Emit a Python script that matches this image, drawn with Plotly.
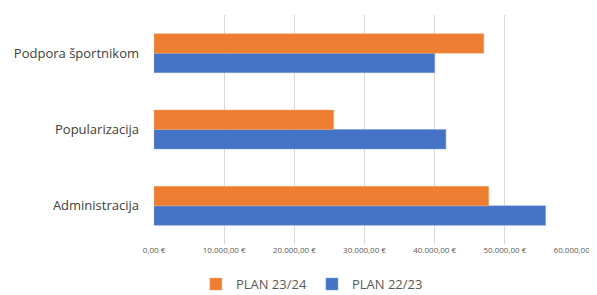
import plotly.graph_objects as go

categories = ["Administracija", "Popularizacija", "Podpora športnikom"]
plan_22_23 = [55800, 41600, 40000]
plan_23_24 = [47700, 25600, 47000]
tick_vals = [0, 10000, 20000, 30000, 40000, 50000, 60000]
tick_text = ["0,00 €", "10.000,00 €", "20.000,00 €", "30.000,00 €",
             "40.000,00 €", "50.000,00 €", "60.000,00 €"]

fig = go.Figure()
fig.add_trace(go.Bar(
    y=categories, x=plan_22_23, name="PLAN 22/23", orientation="h",
    marker=dict(color="#4472C4", line=dict(color="#7f9bd6", width=0.5)),
))
fig.add_trace(go.Bar(
    y=categories, x=plan_23_24, name="PLAN 23/24", orientation="h",
    marker=dict(color="#ED7D31", line=dict(color="#f3a46f", width=0.5)),
))

# page body has an 8px margin, so the figure is sized/offset to compensate
fig.update_layout(
    width=589, height=287,
    margin=dict(l=146, r=22, t=7, b=51, autoexpand=False),
    paper_bgcolor="white", plot_bgcolor="white",
    barmode="group", bargap=0.49, bargroupgap=0,
    font=dict(family="Open Sans, Noto Sans, sans-serif", color="#595959"),
    xaxis=dict(
        range=[0, 60000], tickvals=tick_vals, ticktext=tick_text,
        showgrid=True, gridcolor="#d9d9d9", gridwidth=1, zeroline=False,
        tickfont=dict(size=8, color="#595959"), ticks="", fixedrange=True,
        automargin=False,
    ),
    yaxis=dict(
        showgrid=False, zeroline=False, ticks="", ticklabelstandoff=14,
        tickfont=dict(size=13, color="#404040"), automargin=False,
    ),
    showlegend=True,
    legend=dict(
        orientation="h", traceorder="reversed",
        x=0.375, xanchor="center", y=-0.175, yanchor="middle",
        font=dict(size=13, color="#595959"), itemwidth=30,
    ),
)

fig.write_html("out.html")
